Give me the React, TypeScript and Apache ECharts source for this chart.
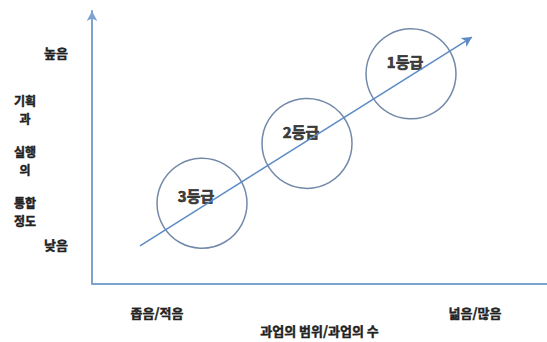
import React, { useEffect, useRef } from "react";
import * as echarts from "echarts";

// Grades (circles) and their positions in the diagram's value space
const GRADES = ["3등급", "2등급", "1등급"];
const GRADE_X = [110, 215, 319];
const GRADE_Y = [83, 145, 217];

// Trend arrow from start to end (value space)
const ARROW_X = [48, 380];
const ARROW_Y = [39, 255];

// Axis labels
const X_TICK_LABELS = ["좁음/적음", "넓음/많음"];
const X_TICK_VALUES = [65, 383];
const Y_TICK_LABELS = ["낮음", "높음"];
const Y_TICK_VALUES = [40, 239];
const X_NAME = "과업의 범위/과업의 수";
const Y_NAME_GROUPS = ["기획\n과", "실행\n의", "통합\n정도"];

const FONT = "'Noto Sans CJK KR', 'Noto Sans', sans-serif";
const TXT = {
  fontFamily: FONT,
  fontSize: 13,
  fontWeight: "bold",
  color: "#222",
  textBorderColor: "#222",
  textBorderWidth: 0.4,
};

export default function App() {
  const ref = useRef<HTMLDivElement>(null);
  useEffect(() => {
    if (!ref.current) return;
    const chart = echarts.init(ref.current, null, { renderer: "svg" });
    const axisColor = "#7da3cf";
    chart.setOption({
      animation: false,
      backgroundColor: "#ffffff",
      grid: { left: 92, right: 0, top: 11, bottom: 49, containLabel: false },
      graphic: Y_NAME_GROUPS.map((t, i) => ({
        type: "text",
        x: 25,
        y: 91 + i * 51,
        style: {
          text: t,
          fontFamily: FONT,
          fontSize: 12,
          fontWeight: "bold",
          fill: "#222",
          stroke: "#222",
          lineWidth: 0.45,
          align: "center",
          verticalAlign: "top",
          lineHeight: 18,
        },
      })),
      xAxis: {
        type: "value",
        min: 0,
        max: 455,
        axisLine: { show: true, onZero: false, lineStyle: { color: axisColor, width: 2 } },
        axisTick: { show: false },
        splitLine: { show: false },
        axisLabel: {
          customValues: X_TICK_VALUES,
          margin: 22,
          ...TXT,
          formatter: (v: number) => {
            const i = X_TICK_VALUES.indexOf(v);
            return i >= 0 ? X_TICK_LABELS[i] : "";
          },
        },
        name: X_NAME,
        nameLocation: "middle",
        nameGap: 34,
        nameTextStyle: { ...TXT },
      },
      yAxis: {
        type: "value",
        min: 0,
        max: 282,
        axisLine: {
          show: true,
          onZero: false,
          symbol: ["none", "arrow"],
          symbolSize: [8, 10],
          lineStyle: { color: axisColor, width: 2 },
        },
        axisTick: { show: false },
        splitLine: { show: false },
        axisLabel: {
          customValues: Y_TICK_VALUES,
          margin: 24,
          ...TXT,
          formatter: (v: number) => {
            const i = Y_TICK_VALUES.indexOf(v);
            return i >= 0 ? Y_TICK_LABELS[i] : "";
          },
        },
      },
      series: [
        {
          type: "scatter",
          silent: true,
          symbol: "circle",
          symbolSize: 90,
          itemStyle: { color: "transparent", borderColor: "#4f6b94", borderWidth: 1.5 },
          label: {
            show: true,
            position: "inside",
            offset: [-6, -12],
            formatter: (p: any) => GRADES[p.dataIndex],
            fontFamily: FONT,
            fontSize: 15,
            fontWeight: "bold",
            color: "#111",
            textBorderColor: "#111",
            textBorderWidth: 0.7,
          },
          data: GRADES.map((_, i) => ({
            value: [GRADE_X[i], GRADE_Y[i]],
            label: i === 0 ? { offset: [-6, -8] } : undefined,
          })),
          markLine: {
            silent: true,
            symbol: ["none", "arrow"],
            symbolSize: [8, 10],
            label: { show: false },
            lineStyle: { color: "#5b8ac4", width: 1.5, type: "solid" },
            data: [
              [
                { coord: [ARROW_X[0], ARROW_Y[0]] },
                { coord: [ARROW_X[1], ARROW_Y[1]] },
              ],
            ],
          },
        },
      ],
    });
    return () => chart.dispose();
  }, []);
  return (
    <div
      ref={ref}
      style={{ position: "absolute", left: 0, top: 0, width: 547, height: 342 }}
    />
  );
}
